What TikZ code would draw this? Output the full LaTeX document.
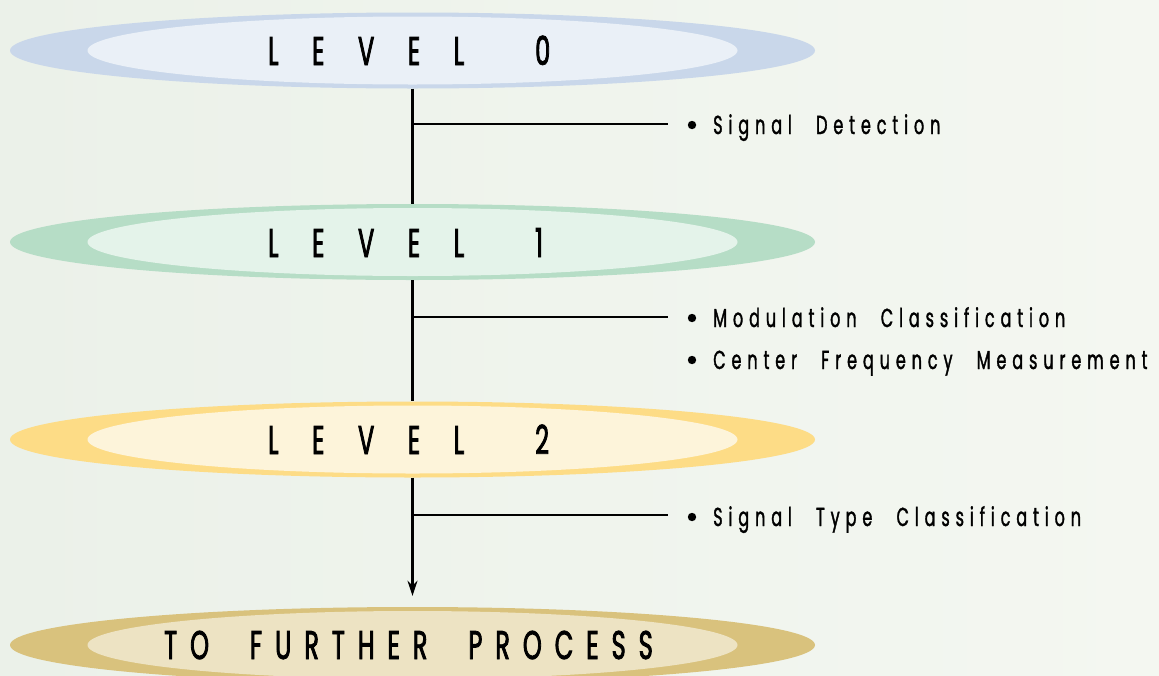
\documentclass[tikz,border=0pt]{standalone}
\usepackage{fontspec}
\usetikzlibrary{shapes.geometric,arrows.meta}
\newfontfamily\lvfont[FakeStretch=0.6,LetterSpace=84,FakeBold=2]{Poppins}
\newfontfamily\fpfont[FakeStretch=0.6,LetterSpace=32.5,FakeBold=2]{Poppins}
\newfontfamily\itfont[FakeStretch=0.62,LetterSpace=22.5,FakeBold=1.3]{Poppins}
\newcommand\lvgap{\hspace{71pt}}
\newcommand\fpgap{\hspace{41pt}}
\newcommand\itgap{\hspace{14pt}}
\definecolor{bgA}{HTML}{EBF1E9}
\definecolor{bgB}{HTML}{F4F7F1}
\definecolor{oA}{HTML}{C9D7EA}\definecolor{iA}{HTML}{EAF0F7}
\definecolor{oB}{HTML}{B6DDC6}\definecolor{iB}{HTML}{E4F3EA}
\definecolor{oC}{HTML}{FDDC86}\definecolor{iC}{HTML}{FDF4DA}
\definecolor{oD}{HTML}{D9C27D}\definecolor{iD}{HTML}{EDE3C3}
\tikzset{
  outerell/.style={ellipse,inner sep=0pt,minimum width=805pt,minimum height=76pt},
  innerell/.style={ellipse,inner sep=0pt,minimum width=650pt,minimum height=68pt},
  lvtext/.style={anchor=base west,inner sep=0pt,font=\lvfont\fontsize{40}{40}\selectfont},
  fptext/.style={anchor=base west,inner sep=0pt,font=\fpfont\fontsize{40}{40}\selectfont},
  itemtext/.style={anchor=base west,inner sep=0pt,font=\itfont\fontsize{26}{26}\selectfont},
  conn/.style={line width=2.2pt,black},
  bul/.style={fill=black}
}
\begin{document}
\begin{tikzpicture}[x=1pt,y=-1pt]
\useasboundingbox (0,0) rectangle (1159,675);
\shade[left color=bgA,right color=bgB] (0,0) rectangle (1159,675);
% ellipses
\node[outerell,fill=oA] (l0) at (412.5,50.5) {};
\node[innerell,fill=iA] (i0) at (412.5,50.5) {};
\node[outerell,fill=oB] (l1) at (412.5,242) {};
\node[innerell,fill=iB] (i1) at (412.5,242) {};
\node[outerell,fill=oC] (l2) at (412.5,439.5) {};
\node[innerell,fill=iC] (i2) at (412.5,439.5) {};
\node[outerell,fill=oD] (l3) at (412.5,645) {};
\node[innerell,fill=iD] (i3) at (412.5,645) {};
% labels
\node[lvtext] (t0) at (268,65) {LEVEL\lvgap 0};
\node[lvtext] (t1) at (268,257) {LEVEL\lvgap 1};
\node[lvtext] (t2) at (268,454) {LEVEL\lvgap 2};
\node[fptext] (t3) at (164,659) {TO\fpgap{}FURTHER\fpgap{}PROCESS};
% trunk
\draw[conn] (l0.south) -- (l1.north);
\draw[conn] (l1.south) -- (l2.north);
\draw[conn,-{Stealth[length=15pt,width=10pt]},shorten >=11pt] (l2.south) -- (l3.north);
% branches
\coordinate (b0) at (412.5,124);
\coordinate (e0) at (668,124);
\coordinate (b1) at (412.5,317);
\coordinate (e1) at (668,317);
\coordinate (b2) at (412.5,515);
\coordinate (e2) at (668,515);
\draw[conn] (b0) -- (e0);
\draw[conn] (b1) -- (e1);
\draw[conn] (b2) -- (e2);
% items
\fill[bul] (692,125) circle (4.2);
\node[itemtext] (s0) at (713,134) {Signal\itgap{} Detection};
\fill[bul] (692,318) circle (4.2);
\node[itemtext] (s1) at (713,327) {Modulation\itgap{} Classification};
\fill[bul] (692,360) circle (4.2);
\node[itemtext] (s2) at (713,369) {Center\itgap{} Frequency\itgap{} Measurement};
\fill[bul] (692,517) circle (4.2);
\node[itemtext] (s3) at (713,526) {Signal\itgap{} Type\itgap{} Classification};
\end{tikzpicture}
\end{document}
